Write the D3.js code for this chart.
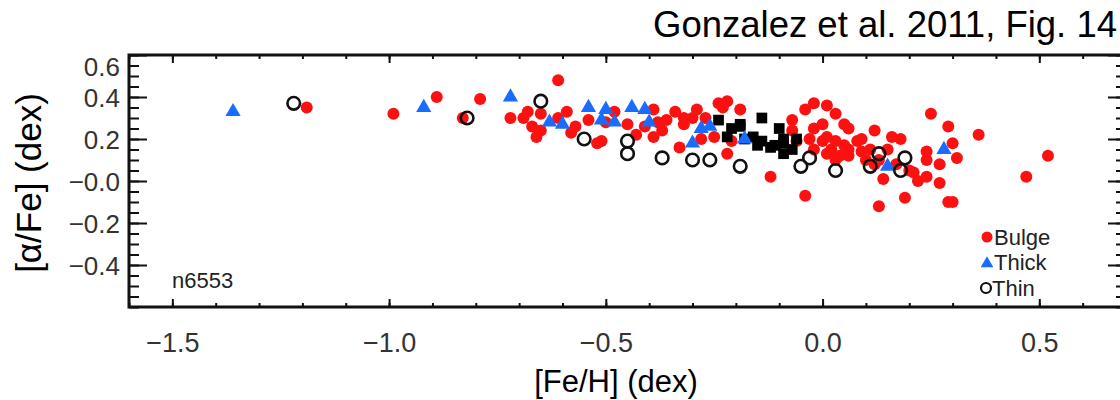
<!DOCTYPE html>
<html>
<head>
<meta charset="utf-8">
<script src="https://cdn.jsdelivr.net/npm/d3@7"></script>
<style>
  html, body { margin: 0; padding: 0; background: #fff; }
  svg { display: block; font-family: "Liberation Sans", Arial, sans-serif; }
</style>
</head>
<body>
<div id="chart"></div>
<script>
// Gonzalez et al. 2011, Fig. 14 - [alpha/Fe] vs [Fe/H] scatter

// Bulge (red filled dots)
const bulgeFeH = [-1.19, -0.99, -0.89, -0.79, -0.83, -0.61, -0.72, -0.68, -0.69, -0.67,
    -0.66, -0.65, -0.65, -0.61, -0.59, -0.57, -0.58, -0.54, -0.52, -0.50,
    -0.48, -0.45, -0.43, -0.39, -0.38, -0.39, -0.37, -0.34, -0.32, -0.32,
    -0.29, -0.30, -0.33, -0.28, -0.24, -0.22, -0.22, -0.21, -0.25, -0.27,
    -0.23, -0.12, -0.07, -0.04, -0.02, 0.01, 0.03, -0.07, -0.04, -0.06,
    -0.03, -0.02, 0.00, 0.01, 0.02, 0.03, 0.04, 0.05, 0.03, 0.08,
    0.09, 0.12, 0.09, 0.06, 0.14, 0.16, 0.18, 0.13, 0.19, 0.21,
    0.22, 0.24, 0.25, 0.24, 0.27, 0.27, 0.29, 0.30, 0.31, 0.29,
    0.30, 0.36, 0.47, 0.52, 0.24, 0.20, -0.41, -0.51, -0.36, -0.19,
    0.06, 0.11, 0.13, 0.17, 0.00, 0.05, -0.02, 0.01, 0.06, 0.10,
    0.12, 0.15];
const bulgeAlpha = [0.35, 0.32, 0.40, 0.39, 0.30, 0.48, 0.30, 0.33, 0.30, 0.26,
    0.21, 0.32, 0.24, 0.30, 0.33, 0.26, 0.23, 0.29, 0.18, 0.28,
    0.33, 0.27, 0.22, 0.34, 0.28, 0.21, 0.24, 0.33, 0.30, 0.27,
    0.34, 0.30, 0.16, 0.20, 0.37, 0.38, 0.13, 0.19, 0.21, 0.30,
    0.35, 0.02, 0.29, 0.34, 0.37, 0.36, 0.32, 0.24, -0.07, 0.19,
    0.20, 0.15, 0.19, 0.21, 0.15, 0.19, 0.12, 0.17, 0.10, 0.19,
    0.14, 0.24, 0.20, 0.12, 0.01, 0.21, 0.20, -0.12, -0.08, 0.04,
    0.00, 0.02, 0.32, 0.14, 0.08, -0.01, 0.26, 0.18, 0.11, -0.10,
    -0.10, 0.22, 0.02, 0.12, 0.10, 0.05, 0.26, 0.19, 0.29, 0.34,
    0.25, 0.15, 0.10, 0.08, 0.27, 0.27, 0.25, 0.13, 0.15, 0.10,
    0.08, 0.15];

// unlabelled filled black squares
const blackFeH = [-0.24, -0.22, -0.19, -0.18, -0.16, -0.14, -0.15, -0.14, -0.12, -0.10,
    -0.09, -0.07, -0.06, -0.11, -0.09, -0.21, -0.19, -0.09];
const blackAlpha = [0.29, 0.21, 0.26, 0.20, 0.21, 0.30, 0.17, 0.19, 0.16, 0.25,
    0.20, 0.15, 0.20, 0.17, 0.13, 0.25, 0.27, 0.18];

// Thick disk (blue triangles)
const thickFeH = [-1.36, -0.92, -0.72, -0.63, -0.60, -0.54, -0.50, -0.48, -0.44, -0.41,
    -0.40, -0.30, -0.28, -0.26, -0.18, 0.15, 0.28, -0.51];
const thickAlpha = [0.33, 0.35, 0.40, 0.28, 0.27, 0.35, 0.34, 0.28, 0.35, 0.34,
    0.28, 0.18, 0.25, 0.26, 0.20, 0.07, 0.15, 0.29];

// Thin disk (open circles)
const thinFeH = [-1.22, -0.82, -0.65, -0.55, -0.45, -0.45, -0.37, -0.30, -0.26, -0.19,
    -0.05, -0.03, 0.03, 0.11, 0.13, 0.18, 0.19];
const thinAlpha = [0.37, 0.30, 0.38, 0.20, 0.19, 0.13, 0.11, 0.10, 0.10, 0.07,
    0.07, 0.11, 0.05, 0.07, 0.13, 0.05, 0.11];

const xMajor = [-1.5, -1.0, -0.5, 0.0, 0.5];
const xTickLabels = ["\u22121.5", "\u22121.0", "\u22120.5", "0.0", "0.5"];
const yMajor = [0.6, 0.4, 0.2, 0.0, -0.2, -0.4];
const yTickLabels = ["0.6", "0.4", "0.2", "\u22120.0", "\u22120.2", "\u22120.4"];
const legendNames = ["Bulge", "Thick", "Thin"];

const width = 1120, height = 400;

const svg = d3.select("#chart").append("svg")
    .attr("width", width)
    .attr("height", height);

const x = d3.scaleLinear().domain([-1.6, 0.7]).range([129, 1126]);
const y = d3.scaleLinear().domain([-0.6, 0.6]).range([307, 55]);

const xMinor = d3.range(-16, 8).map(d => d / 10);
const yMinor = d3.range(-12, 13).map(d => d / 20);

// axes (ticks point inward)
function styleAxis(g) {
    g.select(".domain").remove();
    g.selectAll(".tick line").attr("stroke", "#111").attr("stroke-width", 2);
}

svg.append("g").attr("transform", `translate(0,${y(-0.6)})`)
    .call(d3.axisBottom(x).tickValues(xMinor).tickSize(-4).tickFormat(""))
    .call(styleAxis);
svg.append("g").attr("transform", `translate(0,${y(-0.6)})`)
    .call(d3.axisBottom(x).tickValues(xMajor).tickSize(-8)
        .tickFormat((d, i) => xTickLabels[i]))
    .call(styleAxis)
    .call(g => g.selectAll(".tick text")
        .attr("y", 26).attr("dy", "0.71em")
        .style("font-size", "27px").attr("fill", "#333"));

svg.append("g").attr("transform", `translate(0,${y(0.6)})`)
    .call(d3.axisTop(x).tickValues(xMinor).tickSize(-4).tickFormat(""))
    .call(styleAxis);
svg.append("g").attr("transform", `translate(0,${y(0.6)})`)
    .call(d3.axisTop(x).tickValues(xMajor).tickSize(-8).tickFormat(""))
    .call(styleAxis);

svg.append("g").attr("transform", `translate(${x(-1.6)},0)`)
    .call(d3.axisLeft(y).tickValues(yMinor).tickSize(-10).tickFormat(""))
    .call(styleAxis);
svg.append("g").attr("transform", `translate(${x(-1.6)},0)`)
    .call(d3.axisLeft(y).tickValues(yMajor).tickSize(-18)
        .tickFormat((d, i) => yTickLabels[i]))
    .call(styleAxis)
    .call(g => g.selectAll(".tick text")
        .attr("x", -9)
        .attr("dy", d => d === 0.6 ? "0.8em" : "0.38em")
        .style("font-size", "26px").attr("fill", "#333"));

svg.append("g").attr("transform", `translate(${x(0.7)},0)`)
    .call(d3.axisRight(y).tickValues(yMinor).tickSize(-10).tickFormat(""))
    .call(styleAxis);
svg.append("g").attr("transform", `translate(${x(0.7)},0)`)
    .call(d3.axisRight(y).tickValues(yMajor).tickSize(-18).tickFormat(""))
    .call(styleAxis);

// frame
svg.append("rect")
    .attr("x", x(-1.6)).attr("y", y(0.6))
    .attr("width", x(0.7) - x(-1.6)).attr("height", y(-0.6) - y(0.6))
    .attr("fill", "none").attr("stroke", "#111").attr("stroke-width", 3);

// points
const pts = svg.append("g");

pts.selectAll(".bulge")
    .data(d3.zip(bulgeFeH, bulgeAlpha))
    .join("circle")
    .attr("class", "bulge")
    .attr("cx", d => x(d[0])).attr("cy", d => y(d[1]))
    .attr("r", 6)
    .attr("fill", "#ff1010");

pts.selectAll(".black")
    .data(d3.zip(blackFeH, blackAlpha))
    .join("path")
    .attr("class", "black")
    .attr("transform", d => `translate(${x(d[0])},${y(d[1])})`)
    .attr("d", d3.symbol(d3.symbolSquare, 115))
    .attr("fill", "#000");

pts.selectAll(".thick")
    .data(d3.zip(thickFeH, thickAlpha))
    .join("path")
    .attr("class", "thick")
    .attr("transform", d => `translate(${x(d[0])},${y(d[1])})`)
    .attr("d", d3.symbol(d3.symbolTriangle, 100))
    .attr("fill", "#1a6cff");

pts.selectAll(".thin")
    .data(d3.zip(thinFeH, thinAlpha))
    .join("circle")
    .attr("class", "thin")
    .attr("cx", d => x(d[0])).attr("cy", d => y(d[1]))
    .attr("r", 6.3)
    .attr("fill", "none")
    .attr("stroke", "#111")
    .attr("stroke-width", 2.6);

// legend
const legend = svg.append("g").attr("transform", "translate(987,237)");
const rowH = 25.5;
legend.append("circle").attr("cx", 0).attr("cy", 0).attr("r", 5.5).attr("fill", "#ff1010");
legend.append("path").attr("transform", `translate(0,${rowH + 1})`)
    .attr("d", d3.symbol(d3.symbolTriangle, 70)).attr("fill", "#1a6cff");
legend.append("circle").attr("cx", -1).attr("cy", rowH * 2).attr("r", 5)
    .attr("fill", "none").attr("stroke", "#111").attr("stroke-width", 2.2);
legend.selectAll("text")
    .data(legendNames)
    .join("text")
    .attr("x", d => d === "Thin" ? 5 : 7)
    .attr("y", (d, i) => i * rowH)
    .attr("dy", "0.36em")
    .style("font-size", "22px")
    .attr("fill", "#222")
    .text(d => d);

// cluster name
svg.append("text")
    .attr("x", 172).attr("y", 288)
    .style("font-size", "22px").attr("fill", "#222")
    .text("n6553");

// axis titles
svg.append("text")
    .attr("x", 616).attr("y", 392)
    .attr("text-anchor", "middle")
    .style("font-size", "31px").attr("fill", "#000")
    .text("[Fe/H] (dex)");

svg.append("text")
    .attr("transform", "translate(41,183) rotate(-90)")
    .attr("text-anchor", "middle")
    .style("font-size", "35px").attr("fill", "#000")
    .text("[\u03b1/Fe] (dex)");

// citation
svg.append("text")
    .attr("x", 1117).attr("y", 37)
    .attr("text-anchor", "end")
    .style("font-size", "36.5px").attr("fill", "#000")
    .text("Gonzalez et al. 2011, Fig. 14");
</script>
</body>
</html>
